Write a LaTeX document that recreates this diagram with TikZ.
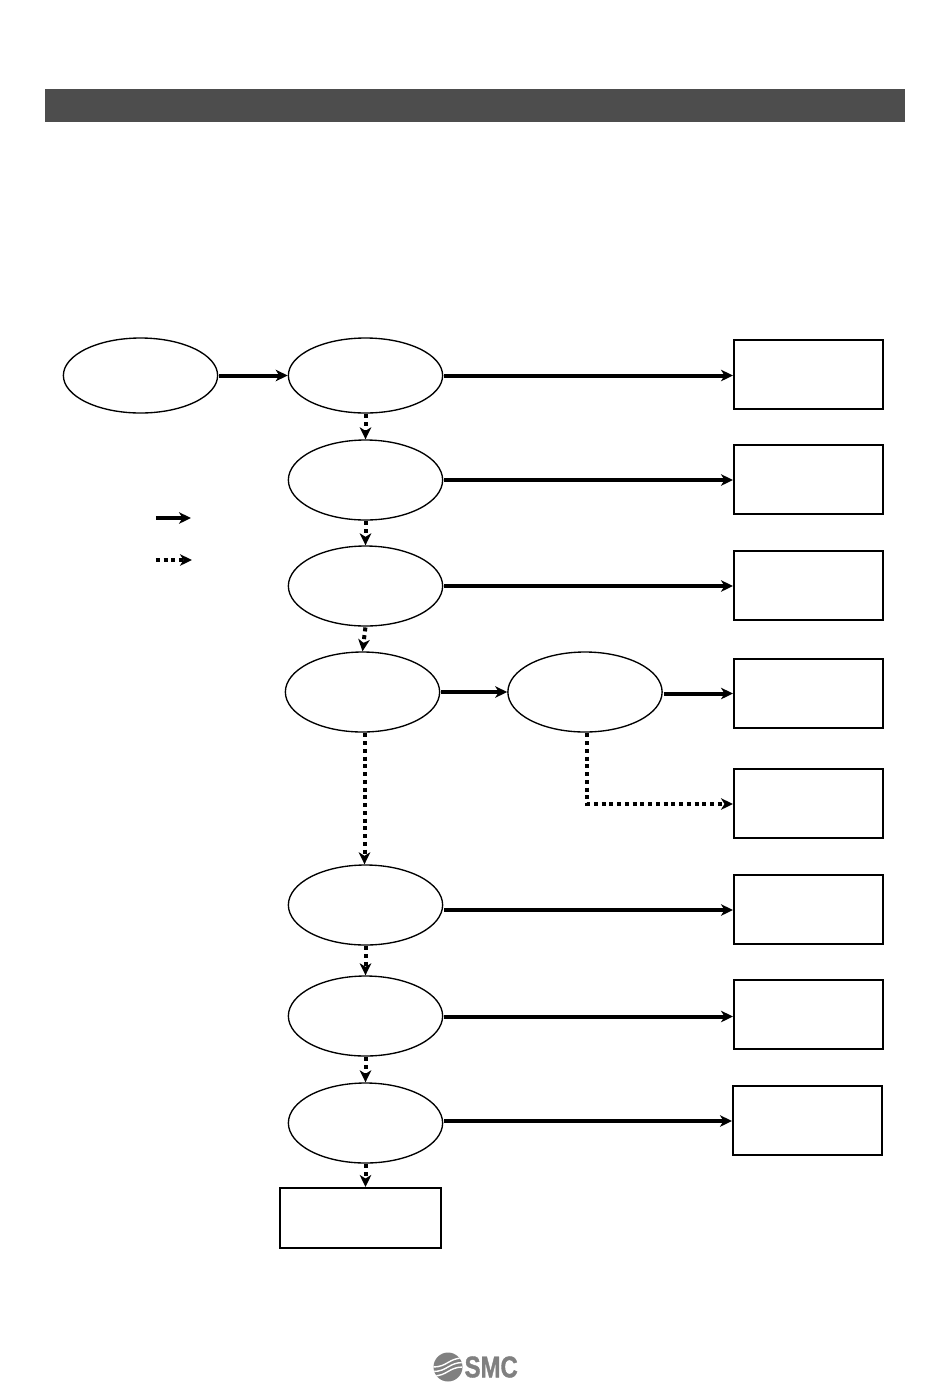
\documentclass[tikz,border=0pt]{standalone}
\usepackage{xcolor}
\usepackage{fontspec}
\setsansfont{Liberation Sans}
\newfontfamily\logofont[BoldFeatures={FakeBold=1.4}]{Liberation Sans}
\usetikzlibrary{positioning, calc, arrows.meta, shapes.geometric}
\definecolor{barGray} {HTML}{4D4D4D}
\definecolor{logoGray}{HTML}{808080}
\tikzset{
  >={Stealth[length=2.4mm, width=2.3mm, inset=0.7mm]},
  stepell/.style={
    draw=black, line width=0.27mm, ellipse, inner sep=0pt,
    minimum width=30.85mm, minimum height=16mm, fill=white
  },
  stepellsm/.style={
    stepell, minimum height=15mm
  },
  outbox/.style={
    draw=black, line width=0.4mm, rectangle, inner sep=0pt,
    minimum width=29.8mm, minimum height=13.8mm, fill=white
  },
  endbox/.style={
    draw=black, line width=0.4mm, rectangle, inner sep=0pt,
    minimum width=32.2mm, minimum height=12mm, fill=white
  },
  headbar/.style={
    fill=barGray, draw=none, rectangle, inner sep=0pt,
    minimum width=172mm, minimum height=6.6mm
  },
  solidwire/.style={
    ->, line width=0.8mm, draw=black, shorten <=0.15mm
  },
  dotwire/.style={
    ->, line width=0.8mm, draw=black, shorten <=0.15mm,
    dash pattern=on 0.8mm off 0.75mm
  },
}
\begin{document}
\begin{tikzpicture}[x=0.2mm, y=-0.2mm]

\useasboundingbox (0, 0) rectangle (950, 1388);

\node[headbar] (bar) at (475, 105.5) {};

% Ellipses, main column
\node[stepellsm] (start) at (140.5, 375.5) {};
\node[stepellsm] (e1) at (365.5, 375.5) {};
\node[stepell] (e2) at (365.5, 480) {};
\node[stepell] (e3) at (365.5, 586) {};
\node[stepell] (e4) at (362.5, 692) {};
\node[stepell] (e6) at (365.5, 905) {};
\node[stepell] (e7) at (365.5, 1016) {};
\node[stepell] (e8) at (365.5, 1123) {};

% Side branch
\node[stepell] (e5) at (585, 692) {};

% Result boxes
\node[outbox] (b1) at (808.5, 374.5) {};
\node[outbox] (b2) at (808.5, 479.5) {};
\node[outbox] (b3) at (808.5, 585.5) {};
\node[outbox] (b4) at (808.5, 693.5) {};
\node[outbox] (b5) at (808.5, 803.5) {};
\node[outbox] (b6) at (808.5, 909.5) {};
\node[outbox] (b7) at (808.5, 1014.5) {};
\node[outbox] (b8) at (807.5, 1120.5) {};
\node[endbox] (bend) at (360.5, 1218) {};

% Legend arrows
\coordinate (legA1) at (155, 518);
\coordinate (legA2) at (191, 518);
\coordinate (legB1) at (155, 560);
\coordinate (legB2) at (192, 560);
\draw[solidwire] (legA1) -- (legA2);
\draw[dotwire] (legB1) -- (legB2);

% Solid: step -> result (wires sit a little off the box centre)
\draw[solidwire] (start.east) -- (e1.west);
\foreach \e/\b/\d in {e1/b1/1, e2/b2/0.5, e3/b3/0.5, e6/b6/0.5, e7/b7/2, e8/b8/0.5} {
  \draw[solidwire] ($(\e.east |- \b.west)+(0, \d)$) -- ($(\b.west)+(0, \d)$);
}
\draw[solidwire] (e4.east) -- (e5.west);
\draw[solidwire] (e5.east |- b4.west) -- (b4.west);

% Dotted: step -> next step
\foreach \a/\b in {e1/e2, e2/e3, e6/e7, e7/e8} {
  \draw[dotwire] (\a.south) -- (\b.north);
}
\draw[dotwire] (e3.south) -- (e4.north);
\draw[dotwire] ($(e4.south -| e6.north)+(-1, 0)$) -- ($(e6.north)+(-1, 0)$);
\draw[dotwire] (e8.south) -- (e8.south |- bend.north);
\draw[dotwire] ($(e5.south)+(2, 0)$) |- ($(b5.west)+(0, 0.5)$);

% Logo
\node[circle, fill=logoGray, minimum size=5.8mm, inner sep=0pt] (logoc) at (448, 1367) {};
\begin{scope}
  \clip (448, 1367) circle (14.5);
  \foreach \dy in {0, 4.5, 9} {
    \draw[white, line width=0.28mm]
      ($(logoc.west)+(0, \dy)$) .. controls +(14, 0) and +(-14, 0) .. ($(logoc.east)+(0, \dy-9)$);
  }
\end{scope}
\node[right=0.3mm of logoc, xscale=0.8, anchor=west, inner sep=0pt, text=logoGray,
      font=\logofont\bfseries\fontsize{17}{17}\selectfont] (logot) {SMC};

\end{tikzpicture}
\end{document}
